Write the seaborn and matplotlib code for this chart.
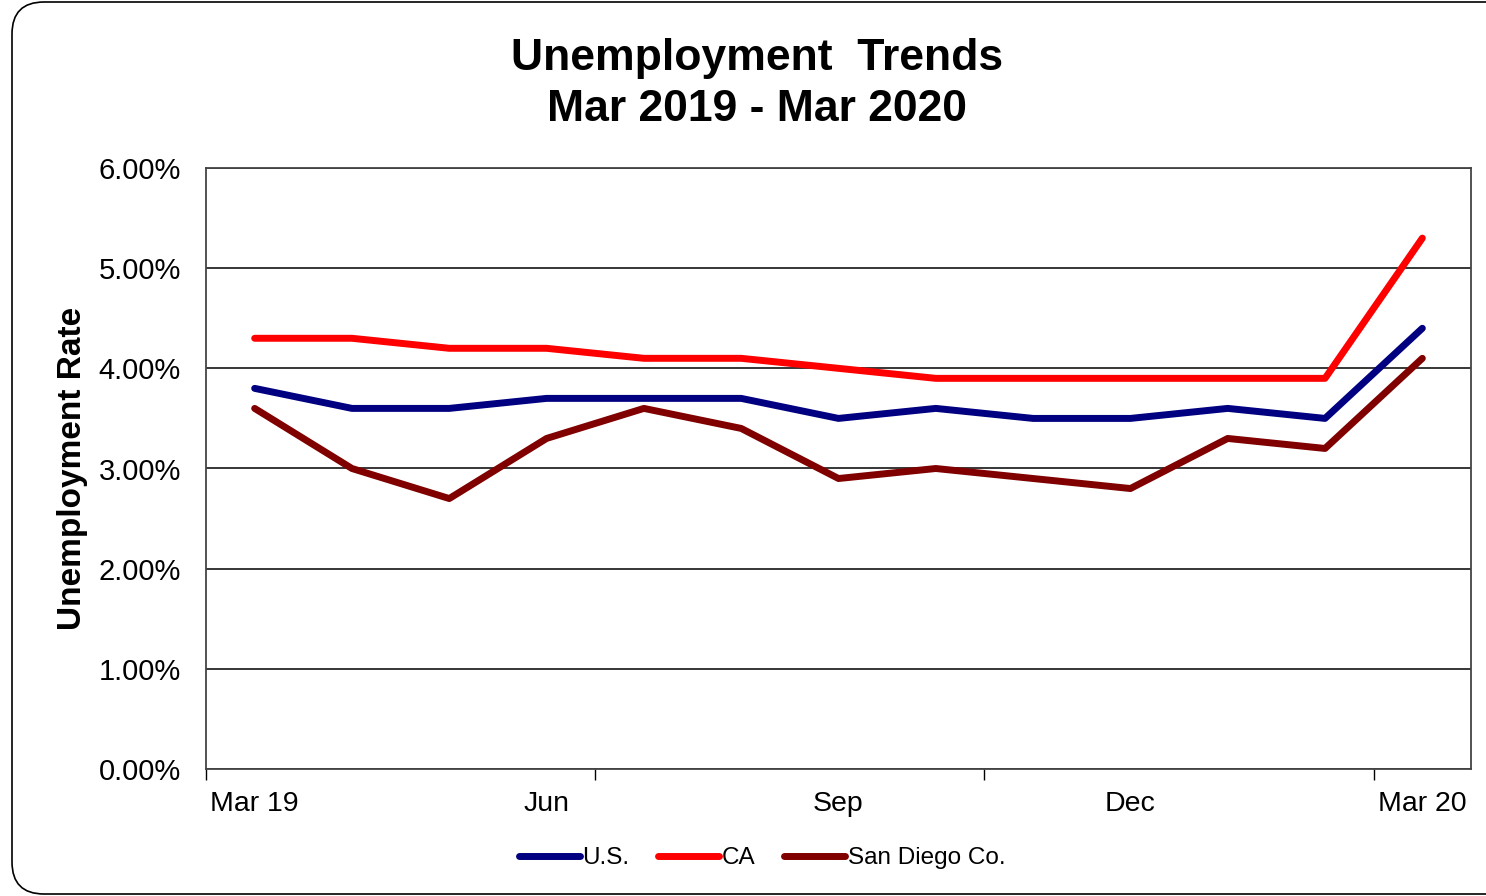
import pandas as pd
import matplotlib.pyplot as plt
import seaborn as sns
from matplotlib.patches import FancyBboxPatch
from matplotlib.ticker import FixedLocator, PercentFormatter

months = ['Mar 19', 'Apr', 'May', 'Jun', 'Jul', 'Aug', 'Sep', 'Oct', 'Nov', 'Dec', 'Jan', 'Feb', 'Mar 20']
us = [3.8, 3.6, 3.6, 3.7, 3.7, 3.7, 3.5, 3.6, 3.5, 3.5, 3.6, 3.5, 4.4]
ca = [4.3, 4.3, 4.2, 4.2, 4.1, 4.1, 4.0, 3.9, 3.9, 3.9, 3.9, 3.9, 5.3]
sd = [3.6, 3.0, 2.7, 3.3, 3.6, 3.4, 2.9, 3.0, 2.9, 2.8, 3.3, 3.2, 4.1]
series = ['U.S.', 'CA', 'San Diego Co.']
colors = ['#000080', '#ff0000', '#800000']
shown_labels = ['Mar 19', 'Jun', 'Sep', 'Dec', 'Mar 20']

rows = []
for name, vals in zip(series, [us, ca, sd]):
    for i, v in enumerate(vals):
        rows.append({'idx': i, 'rate': v, 'region': name})
df = pd.DataFrame(rows)

sns.set_style('white')
plt.rcParams['font.family'] = ['Liberation Sans', 'DejaVu Sans']
plt.rcParams['text.color'] = 'black'
plt.rcParams['axes.labelcolor'] = 'black'
plt.rcParams['xtick.color'] = 'black'
plt.rcParams['ytick.color'] = 'black'

fig = plt.figure(figsize=(14.86, 8.96), dpi=100)
ax = fig.add_axes([206 / 1486, 1 - 769 / 896, (1471 - 206) / 1486, (769 - 168) / 896])

# rounded frame around the whole chart (in inches), right side runs off the image
frame = FancyBboxPatch((0.12, 0.02), 15.2, 8.92,
                       boxstyle='round,pad=0,rounding_size=0.32',
                       transform=fig.dpi_scale_trans, fill=False, edgecolor='black', linewidth=1.2,
                       zorder=0)
fig.patches.append(frame)

lw = 5.0
sns.lineplot(data=df, x='idx', y='rate', hue='region', hue_order=series, palette=colors,
             linewidth=lw, ax=ax, legend=False, solid_capstyle='round', zorder=3)

ax.set_xlim(-0.5, 12.5)
ax.set_ylim(0, 6)
ax.set_yticks([0, 1, 2, 3, 4, 5, 6])
ax.yaxis.set_major_formatter(PercentFormatter(decimals=2))
ax.grid(axis='y', color='black', linewidth=1.1, zorder=1)
ax.tick_params(axis='y', length=0, pad=18, labelsize=21)

# tick marks between groups, labels on the month points
ax.xaxis.set_major_locator(FixedLocator([-0.5, 3.5, 7.5, 11.5]))
ax.xaxis.set_major_formatter(plt.NullFormatter())
label_pos = [months.index(m) for m in shown_labels]
ax.xaxis.set_minor_locator(FixedLocator(label_pos))
ax.set_xticklabels(shown_labels, minor=True)
ax.tick_params(axis='x', which='major', direction='out', length=8, width=1, color='black', bottom=True)
ax.tick_params(axis='x', which='minor', length=0, pad=16, labelsize=20.5, bottom=True)

for s in ax.spines.values():
    s.set_visible(True)
    s.set_color('#444444')
    s.set_linewidth(1.3)

ax.set_xlabel('')
ax.set_ylabel('Unemployment Rate', fontsize=24, fontweight='bold', labelpad=8)

fig.text(757 / 1486, 1 - 84 / 896, 'Unemployment  Trends\nMar 2019 - Mar 2020', ha='center', va='center',
         fontsize=32, fontweight='bold', linespacing=1.33)

handles = [plt.Line2D([0], [0], color=c, linewidth=lw, solid_capstyle='round') for c in colors]
fig.legend(handles, series, loc='center', bbox_to_anchor=(762 / 1486, 1 - 858 / 896), ncol=3,
           frameon=False, fontsize=17.5, handlelength=2.5, handletextpad=0.1, columnspacing=1.2)

fig.savefig('out.png', dpi=100)
